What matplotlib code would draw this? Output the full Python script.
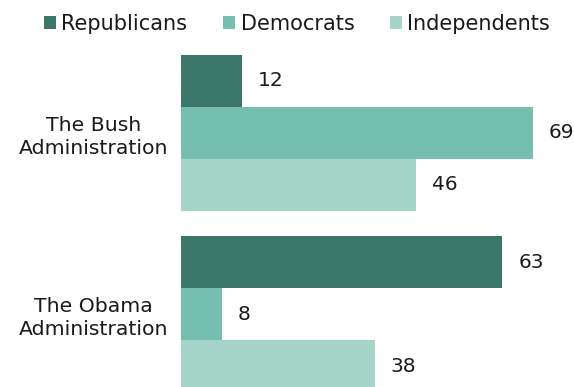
import numpy as np
import matplotlib.pyplot as plt
from matplotlib.patches import Patch

groups = ['The Bush\nAdministration', 'The Obama\nAdministration']
series = ['Republicans', 'Democrats', 'Independents']
republicans = [12, 63]
democrats = [69, 8]
independents = [46, 38]

colors = ['#3a7768', '#76bfb0', '#a6d4c9']

fig = plt.figure(figsize=(5.74, 3.87), dpi=100)
ax = fig.add_axes([181 / 574, 0, 1 - 181 / 574, 1])

y = np.arange(len(groups))
h = 52 / 181  # bar thickness in group units
values = [republicans, democrats, independents]
for i, (vals, c) in enumerate(zip(values, colors)):
    pos = y + (i - 1) * h
    ax.barh(pos, vals, height=h, color=c, linewidth=0)
    for p, v in zip(pos, vals):
        ax.annotate(str(v), (v, p), xytext=(11.5, 0), textcoords='offset points',
                    va='center', ha='left', fontsize=14.5, color='#1a1a1a')

ax.set_xlim(0, 393 / 5.1)
ax.set_ylim(1 + 73 / 181, -133 / 181)
ax.set_yticks(y)
ax.set_yticklabels(groups, fontsize=14.7, color='#1a1a1a')
plt.setp(ax.get_yticklabels(), multialignment='center', linespacing=1.25)
ax.tick_params(axis='y', length=0, pad=9.4)
ax.set_xticks([])
for s in ax.spines.values():
    s.set_visible(False)

handles = [Patch(facecolor=c, edgecolor='none') for c in colors]
fig.legend(handles, series, loc='center', bbox_to_anchor=(297 / 574, 1 - 24 / 387),
           ncol=3, frameon=False, fontsize=15, handlelength=0.6, handleheight=0.6,
           handletextpad=0.25, columnspacing=1.7, borderpad=0, labelcolor='#1a1a1a')

fig.savefig('out.png', dpi=100)
